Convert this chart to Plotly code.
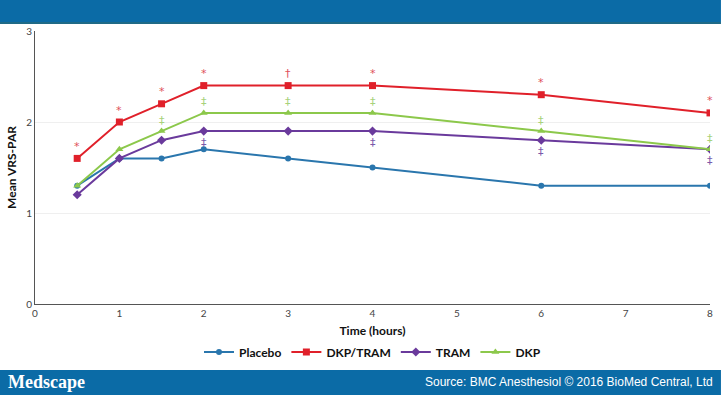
import plotly.graph_objects as go

time_h = [0.5, 1, 1.5, 2, 3, 4, 6, 8]
placebo = [1.3, 1.6, 1.6, 1.7, 1.6, 1.5, 1.3, 1.3]
dkp_tram = [1.6, 2.0, 2.2, 2.4, 2.4, 2.4, 2.3, 2.1]
tram = [1.2, 1.6, 1.8, 1.9, 1.9, 1.9, 1.8, 1.7]
dkp = [1.3, 1.7, 1.9, 2.1, 2.1, 2.1, 1.9, 1.7]

# significance markers (symbol per time point, '' = none)
sig_dkp_tram = ["*", "*", "*", "*", "\u2020", "*", "*", "*"]
sig_dkp = ["", "", "\u2021", "\u2021", "\u2021", "\u2021", "\u2021", "\u2021"]
sig_tram = ["", "", "", "\u2021", "", "\u2021", "\u2021", "\u2021"]

x_ticks = [0, 1, 2, 3, 4, 5, 6, 7, 8]
y_ticks = [0, 1, 2, 3]

C_PLA = "#2a76ad"
C_DT = "#e0202a"
C_TR = "#6a3a9c"
C_DKP = "#8cc84b"

fig = go.Figure()
series = [
    ("Placebo", placebo, C_PLA, "circle", 6),
    ("DKP/TRAM", dkp_tram, C_DT, "square", 7),
    ("TRAM", tram, C_TR, "diamond", 7),
    ("DKP", dkp, C_DKP, "triangle-up", 7),
]
for name, ys, col, sym, sz in series:
    fig.add_trace(go.Scatter(
        x=time_h, y=ys, name=name, mode="lines+markers",
        line=dict(color=col, width=2),
        marker=dict(symbol=sym, size=sz, color=col),
    ))

ann = []
def add_sig(vals, syms, col, shift):
    for x, y, s in zip(time_h, vals, syms):
        if s:
            ann.append(dict(x=x, y=y, text=s, showarrow=False, yshift=shift,
                            font=dict(color=col, size=11, family="DejaVu Sans")))

add_sig(dkp_tram, sig_dkp_tram, "#e0505a", 12)
add_sig(dkp, sig_dkp, "#a8d27a", 11)
add_sig(tram, sig_tram, "#7a5aaa", -11)

PH = 273.0
PW = 678.0
def py(pix):
    return (304 - pix) / PH
def px(pix):
    return (pix - 35) / PW

shapes = [
    dict(type="rect", xref="paper", yref="paper", x0=px(-2), x1=px(724), y0=py(22), y1=py(-2),
         fillcolor="#0b6ba6", line=dict(width=0), layer="above"),
    dict(type="rect", xref="paper", yref="paper", x0=px(-2), x1=px(724), y0=py(24), y1=py(22),
         fillcolor="#1f6a86", line=dict(width=0), layer="above"),
    dict(type="rect", xref="paper", yref="paper", x0=px(-2), x1=px(724), y0=py(397), y1=py(370),
         fillcolor="#0b6ba6", line=dict(width=0), layer="above"),
]

ann.append(dict(xref="paper", yref="paper", x=px(6), y=py(382), xanchor="left", yanchor="middle",
                text="<b>Medscape</b>", showarrow=False,
                font=dict(family="Liberation Serif", size=18, color="white")))
ann.append(dict(xref="paper", yref="paper", x=px(718), y=py(382), xanchor="right", yanchor="middle",
                text="Source: BMC Anesthesiol \u00a9 2016 BioMed Central, Ltd", showarrow=False,
                font=dict(family="Liberation Sans", size=12, color="white")))

fig.update_layout(
    width=722, height=395,
    margin=dict(l=35, r=9, t=31, b=91),
    paper_bgcolor="white", plot_bgcolor="white",
    font=dict(family="Lato", color="#333"),
    showlegend=True,
    legend=dict(orientation="h", x=0.5, xanchor="center", y=py(352), yanchor="middle",
                font=dict(family="Lato", size=12, color="#111", weight="bold"),
                itemwidth=30, tracegroupgap=0, traceorder="normal"),
    xaxis=dict(range=[0, 8], tickvals=x_ticks, showgrid=False, zeroline=False,
               showline=True, linecolor="#555", linewidth=1, ticks="",
               tickfont=dict(size=10, color="#444", family="Lato"),
               title=dict(text="<b>Time (hours)</b>", font=dict(size=12, color="#111", family="Lato"),
                          standoff=8),
               fixedrange=True),
    yaxis=dict(range=[0, 3], tickvals=y_ticks, showgrid=True, gridcolor="#efefef", zeroline=False,
               showline=True, linecolor="#555", linewidth=1, ticks="",
               tickfont=dict(size=10, color="#444", family="Lato"),
               title=dict(text="<b>Mean VRS-PAR</b>", font=dict(size=12, color="#111", family="Lato"),
                          standoff=6),
               fixedrange=True),
    annotations=ann,
    shapes=shapes,
)

fig.write_html("out.html", config={"displayModeBar": False},
               post_script="document.body.style.margin='0';document.body.style.overflow='hidden';")
